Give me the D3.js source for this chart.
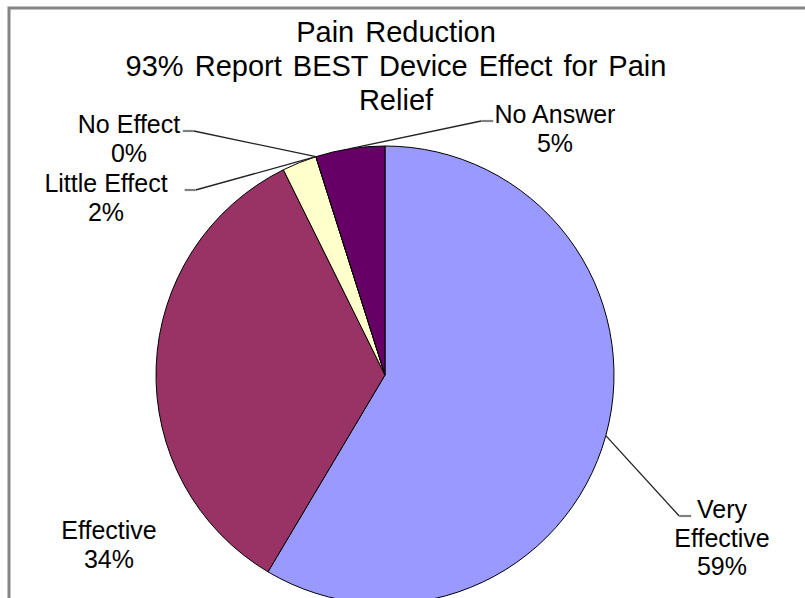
<!DOCTYPE html>
<html>
<head>
<meta charset="utf-8">
<script src="https://cdn.jsdelivr.net/npm/d3@7"></script>
<style>
  body { margin: 0; background: #fff; }
  svg { display: block; }
  text { font-family: Arial, 'Liberation Sans', sans-serif; fill: #000; }
</style>
</head>
<body>
<div id="chart"></div>
<script>
// survey answers (counts), clockwise from 12 o'clock
let categories = ['Very Effective', 'Effective', 'Little Effect', 'No Effect', 'No Answer']
let counts = [24, 14, 1, 0, 2]
let colors = ['#9999FF', '#993366', '#FFFFCC', '#CCFFFF', '#660066']
let titleLines = ['Pain Reduction', '93% Report BEST Device Effect for Pain', 'Relief']

// label placement: center x, first baseline, which side the stub sits, where the leader hits the slice
let labelSpots = [
  { x: 722, y: 518, lines: ['Very', 'Effective'], side: 'left', target: 'mid' },
  { x: 109, y: 539, lines: ['Effective'], side: null, target: null },
  { x: 106, y: 192, lines: ['Little Effect'], side: 'right', target: 'end' },
  { x: 129, y: 133, lines: ['No Effect'], side: 'right', target: 'start' },
  { x: 555, y: 123, lines: ['No Answer'], side: 'left', target: 'mid' }
]

let width = 805
let height = 598
let cx = 385
let cy = 375
let radius = 229

let svg = d3
  .select('#chart')
  .append('svg')
  .attr('width', width)
  .attr('height', height)

// chart area frame
svg
  .append('rect')
  .attr('x', 9)
  .attr('y', 8)
  .attr('width', 840)
  .attr('height', 640)
  .attr('fill', '#fff')
  .attr('stroke', '#858585')
  .attr('stroke-width', 3)

////////////////////////////////////////////////////////////////////////////////
// Title
////////////////////////////////////////////////////////////////////////////////
svg
  .append('g')
  .selectAll('text')
  .data(titleLines)
  .join('text')
  .attr('x', 396)
  .attr('y', (d, i) => 42 + i * 34)
  .attr('text-anchor', 'middle')
  .style('font-size', '29px')
  .style('word-spacing', '3px')
  .text(d => d)

////////////////////////////////////////////////////////////////////////////////
// Pie
////////////////////////////////////////////////////////////////////////////////
let data = categories.map((c, i) => ({ name: c, value: counts[i], color: colors[i] }))
let total = d3.sum(counts)
let pct = d3.format('.0%')

let pie = d3
  .pie()
  .sort(null)
  .value(d => d.value)
let arcs = pie(data)

let arc = d3.arc().innerRadius(0).outerRadius(radius)

let g = svg.append('g').attr('transform', 'translate(' + cx + ',' + cy + ')')

g.selectAll('path')
  .data(arcs)
  .join('path')
  .attr('d', arc)
  .attr('fill', d => d.data.color)
  .attr('stroke', '#000')
  .attr('stroke-width', 1)

////////////////////////////////////////////////////////////////////////////////
// Leader lines + labels
////////////////////////////////////////////////////////////////////////////////
function edgePoint(a, which) {
  let ang = which === 'mid' ? (a.startAngle + a.endAngle) / 2 : which === 'end' ? a.endAngle : a.startAngle
  return [cx + radius * Math.sin(ang), cy - radius * Math.cos(ang)]
}

arcs.forEach((a, i) => {
  let spot = labelSpots[i]
  let lines = spot.lines.concat([pct(a.data.value / total)])

  if (spot.target) {
    let p = edgePoint(a, spot.target)
    let stubY = spot.y - 2
    let tw = spot.lines[0].length * 12.4 / 2
    let sx0, sx1
    if (spot.side === 'left') {
      sx1 = spot.x - tw - 6
      sx0 = sx1 - 12
    } else {
      sx1 = spot.x + tw - 2
      sx0 = sx1 + 11
    }
    svg
      .append('path')
      .attr('d', d3.line()([p, [sx0, stubY]]))
      .attr('fill', 'none')
      .attr('stroke', '#222')
      .attr('stroke-width', 1.3)
    svg
      .append('path')
      .attr('d', d3.line()([[sx0, stubY], [sx1, stubY]]))
      .attr('fill', 'none')
      .attr('stroke', '#808080')
      .attr('stroke-width', 2.2)
  }

  svg
    .append('g')
    .selectAll('text')
    .data(lines)
    .join('text')
    .attr('x', spot.x)
    .attr('y', (d, k) => spot.y + k * 28.5)
    .attr('text-anchor', 'middle')
    .style('font-size', '25px')
    .text(d => d)
})
</script>
</body>
</html>
